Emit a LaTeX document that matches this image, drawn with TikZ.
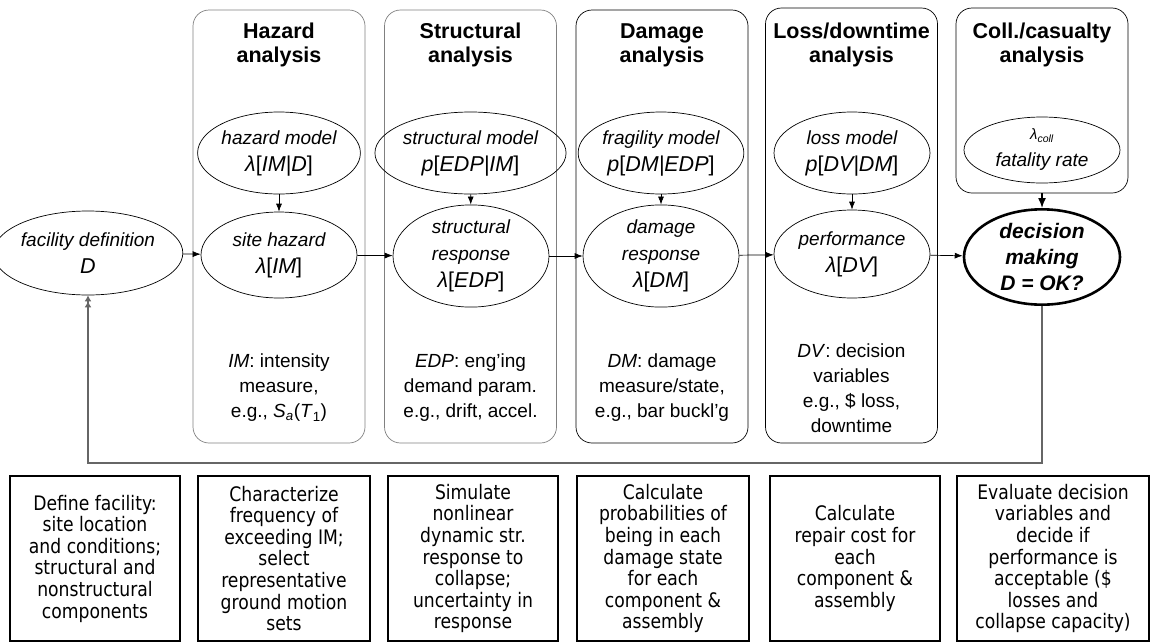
\documentclass[tikz,border=0pt]{standalone}
\usepackage{fontspec}
\setmainfont{Liberation Sans}
\newfontfamily\boxfont[FakeStretch=0.86]{DejaVu Sans}
\usetikzlibrary{shapes.geometric,arrows.meta}
\newcommand{\lbr}{{\upshape[}}
\newcommand{\rbr}{{\upshape]}}
\newcommand{\mathline}[1]{{\fontsize{21.5}{27}\selectfont #1}}
\begin{document}
\begin{tikzpicture}[x=1pt,y=-1pt,
  colbox/.style={draw=#1, line width=0.7pt, rounded corners=16pt, minimum width=172pt, inner sep=0pt},
  hdr/.style={align=center, font=\fontsize{21.5}{24}\selectfont\bfseries},
  desc/.style={align=center, font=\fontsize{19}{25}\selectfont},
  ell/.style={ellipse, draw, line width=0.7pt, minimum width=156pt, minimum height=86pt, inner sep=0pt, align=center, font=\fontsize{19}{27}\selectfont\itshape},
  bbox/.style={draw, line width=1.1pt, minimum width=#1, minimum height=165pt, inner sep=0pt, align=center, font=\boxfont\fontsize{20}{21.6}\selectfont},
  arr/.style={-{Latex[length=8pt,width=6pt]}, line width=0.7pt},
  fb/.style={draw=black!60, line width=2.4pt, -{Latex[length=6pt,width=7pt]Latex[length=6pt,width=7pt]}}
]
\useasboundingbox (0,0) rectangle (1154,643);

% column boxes
\node[colbox=gray, minimum height=433pt] (hazbox) at (279,226.5) {};
\node[colbox=gray, minimum height=433pt] (strbox) at (470.5,226.5) {};
\node[colbox=black, minimum height=433pt] (dambox) at (662,226.5) {};
\node[colbox=black, minimum height=435pt] (lossbox) at (851.5,225.5) {};
\node[colbox=black, minimum height=185pt] (collbox) at (1042,100.5) {};

% headers
\node[hdr] (hazh) at (279,45) {Hazard\\analysis};
\node[hdr] (strh) at (470.5,45) {Structural\\analysis};
\node[hdr] (damh) at (662,45) {Damage\\analysis};
\node[hdr] (lossh) at (851.5,45) {Loss/downtime\\analysis};
\node[hdr] (collh) at (1042,45) {Coll./casualty\\analysis};

% upper ellipses
\node[ell, minimum height=82pt] (hazm) at (279,153) {hazard model\\\mathline{λ\lbr IM|D\rbr}};
\node[ell, minimum height=82pt] (strm) at (470.5,153) {structural model\\\mathline{p\lbr EDP|IM\rbr}};
\node[ell, minimum height=82pt] (fragm) at (661,153) {fragility model\\\mathline{p\lbr DM|EDP\rbr}};
\node[ell, minimum height=82pt] (lossm) at (852,153) {loss model\\\mathline{p\lbr DV|DM\rbr}};
\node[ell, minimum height=66pt] (fatal) at (1042,150) {{\fontsize{15}{20}\selectfont λ\textsubscript{coll}}\\fatality rate};

% lower ellipses
\node[ell, minimum width=152pt, minimum height=84pt] (fac) at (88,253) {facility definition\\\mathline{D}};
\node[ell] (site) at (279,255) {site hazard\\\mathline{λ\lbr IM\rbr}};
\node[ell, minimum height=92pt] (sresp) at (471,256) {structural\\response\\\mathline{λ\lbr EDP\rbr}};
\node[ell, minimum height=92pt] (dresp) at (661,256) {damage\\response\\\mathline{λ\lbr DM\rbr}};
\node[ell, minimum height=88pt] (perf) at (852,254) {performance\\\mathline{λ\lbr DV\rbr}};
\node[ell, line width=2.6pt, minimum height=92pt, font=\fontsize{21}{26}\selectfont\bfseries\itshape] (dec) at (1042,257) {decision\\making\\D = OK?};

% descriptions
\node[desc] (hazd) at (279,388) {\textit{IM}: intensity\\measure,\\e.g., \textit{S}\textsubscript{\textit{a}}(\textit{T}\textsubscript{1})};
\node[desc] (strd) at (470.5,388) {\textit{EDP}: eng'ing\\demand param.\\e.g., drift, accel.};
\node[desc] (damd) at (662,388) {\textit{DM}: damage\\measure/state,\\e.g., bar buckl'g};
\node[desc] (lossd) at (851.5,388) {\textit{DV}: decision\\variables\\e.g., \$ loss,\\downtime};

% arrows
\draw[arr] (fac) -- (site);
\draw[arr] (hazm) -- (site);
\draw[arr] (site) -- (sresp);
\draw[arr] (strm) -- (sresp);
\draw[arr] (sresp) -- (dresp);
\draw[arr] (fragm) -- (dresp);
\draw[arr] (dresp) -- (perf);
\draw[arr] (lossm) -- (perf);
\draw[arr] (perf) -- (dec);
\draw[-{Latex[length=10pt,width=8pt]}, line width=1.5pt] (collbox.south) -- (dec.north);

% feedback loop
\coordinate (fbL) at (88,463);
\draw[fb] (dec.south) |- (fbL) -- (fac.south);

% bottom boxes
\node[bbox=170pt] (b1) at (95,558.5) {Define facility:\\site location\\and conditions;\\structural and\\nonstructural\\components};
\node[bbox=172pt] (b2) at (284,558.5) {Characterize\\frequency of\\exceeding IM;\\select\\representative\\ground motion\\sets};
\node[bbox=170pt] (b3) at (473,558.5) {Simulate\\nonlinear\\dynamic str.\\response to\\collapse;\\uncertainty in\\response};
\node[bbox=172pt] (b4) at (663,558.5) {Calculate\\probabilities of\\being in each\\damage state\\for each\\component \&\\assembly};
\node[bbox=170pt] (b5) at (855,558.5) {Calculate\\repair cost for\\each\\component \&\\assembly};
\node[bbox=192pt] (b6) at (1053,558.5) {Evaluate decision\\variables and\\decide if\\performance is\\acceptable (\$\\losses and\\collapse capacity)};
\end{tikzpicture}
\end{document}
